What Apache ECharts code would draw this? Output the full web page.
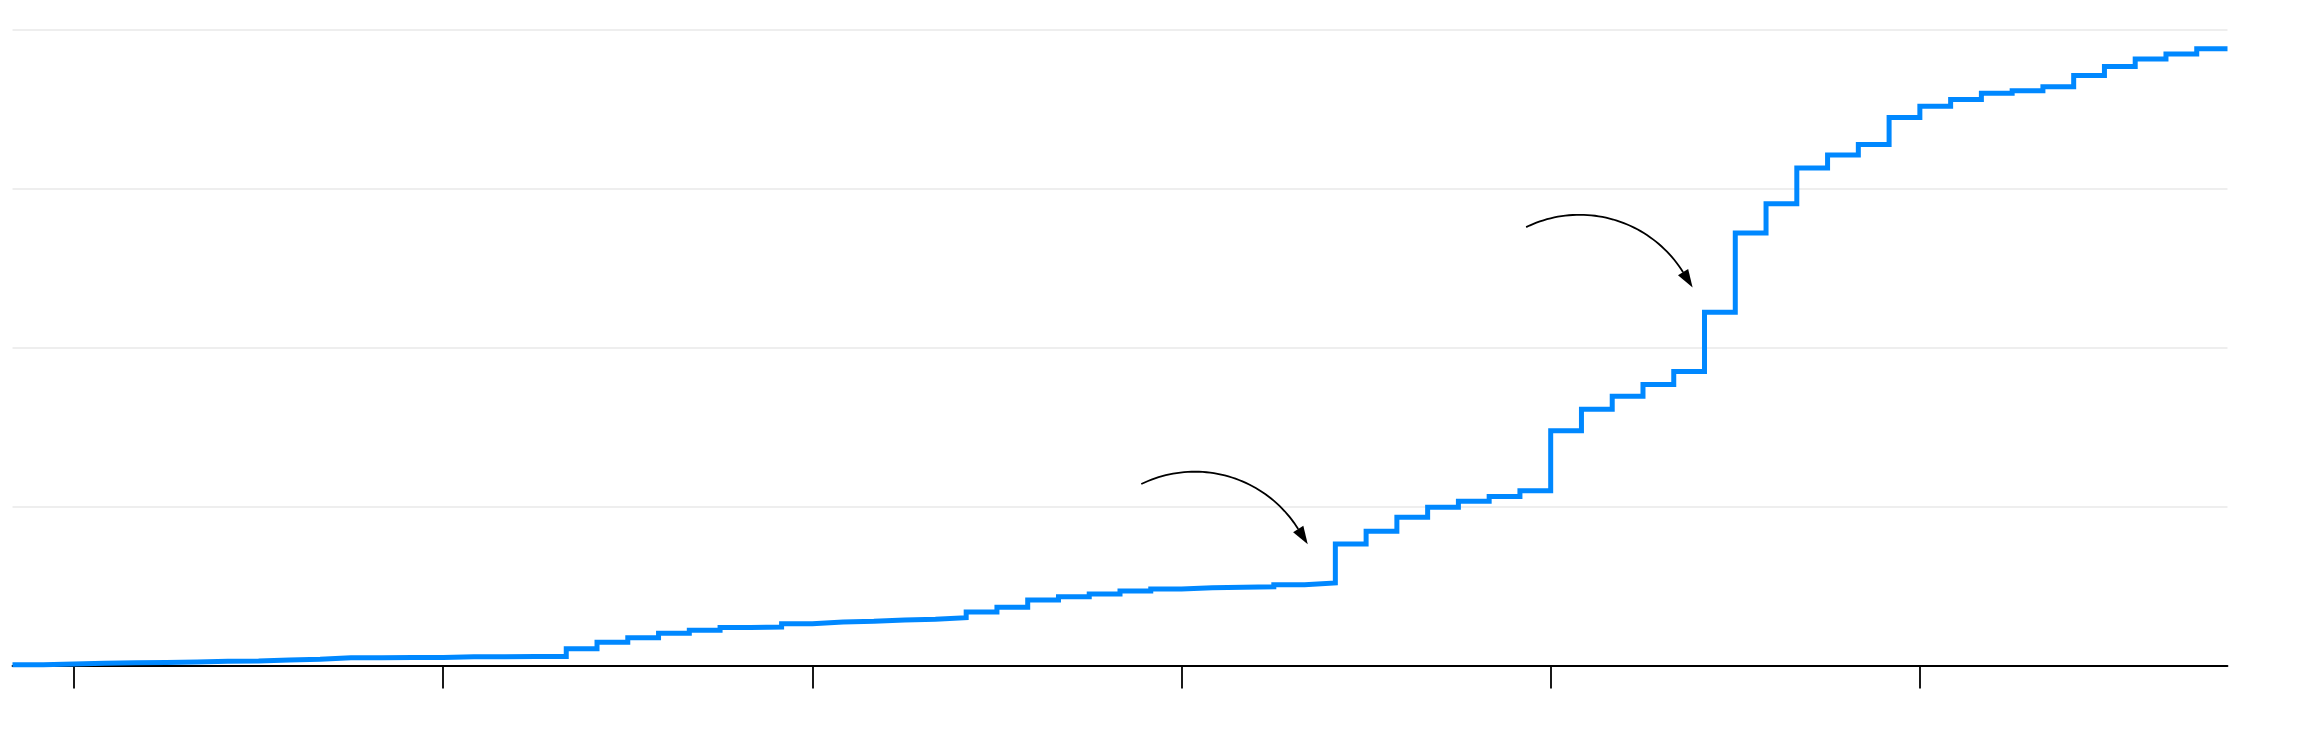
<!DOCTYPE html>
<html><head><meta charset="utf-8">
<script src="https://cdn.jsdelivr.net/npm/echarts@6/dist/echarts.min.js"></script>
<style>html,body{margin:0;padding:0;background:#fff}#c{width:2320px;height:740px}</style>
</head><body><div id="c"></div>
<script>
// one value per monthly step (gridline spacing = 100 units)
const values = [
  0.5, 0.9, 1.4, 1.8, 1.9, 2.2, 2.6, 2.8, 3.5, 3.9,
  4.9, 4.9, 5.0, 5.0, 5.5, 5.5, 5.6, 5.6, 10.6, 14.6,
  17.5, 20.3, 22.2, 23.9, 24.2, 26.3, 27.4, 27.8, 28.7, 29.1,
  30.1, 33.7, 36.6, 41.2, 43.3, 45.0, 46.9, 48.2, 49.0, 49.2,
  49.6, 50.9, 52.0, 76.5, 84.5, 93.3, 99.6, 103.4, 106.3, 110.0,
  147.7, 161.3, 169.5, 176.8, 185.0, 222.4, 272.2, 290.6, 313.1, 321.3,
  328.0, 345.0, 352.0, 356.3, 360.2, 361.8, 364.3, 371.4, 377.1, 381.7,
  384.9, 388.2
];
const tickPositions = [2, 14, 26, 38, 50, 62];
const yMax = 400;
const yInterval = 100;
// annotation arcs: centre of each arc in data coordinates
const arrowCenters = [[38.43, 45.2], [50.94, 206.9]];

const chart = echarts.init(document.getElementById('c'), null, {renderer: 'canvas'});
const data = values.map((v, i) => [i, v]);
data.push([values.length, values[values.length - 1]]);

chart.setOption({
  animation: false,
  backgroundColor: '#ffffff',
  grid: {left: 12.5, right: 92.5, top: 30, bottom: 74.5, containLabel: false},
  xAxis: {
    type: 'value', min: 0, max: values.length,
    axisLine: {show: true, onZero: false, lineStyle: {color: '#000', width: 1.8}},
    axisTick: {show: true, customValues: tickPositions, length: 23, lineStyle: {color: '#000', width: 1.8}},
    axisLabel: {show: false},
    splitLine: {show: false}
  },
  yAxis: {
    type: 'value', min: 0, max: yMax, interval: yInterval,
    axisLine: {show: false}, axisTick: {show: false}, axisLabel: {show: false},
    splitLine: {show: true, lineStyle: {color: '#e9e9e9', width: 1.6}}
  },
  series: [{
    type: 'line', step: 'end', data: data, showSymbol: false, symbol: 'none',
    lineStyle: {color: '#0088ff', width: 5, cap: 'butt', join: 'miter'}, z: 3
  }]
});

function drawArrows() {
  const r = 122, a0 = -116 * Math.PI / 180, a1 = -32 * Math.PI / 180;
  const headLen = 18, headHalf = 6;
  const g = [];
  arrowCenters.forEach((c) => {
    const p = chart.convertToPixel({xAxisIndex: 0, yAxisIndex: 0}, c);
    const pts = [];
    for (let k = 0; k <= 48; k++) {
      const a = a0 + (a1 - a0) * k / 48;
      pts.push([p[0] + r * Math.cos(a), p[1] + r * Math.sin(a)]);
    }
    const b = pts[pts.length - 1];
    const t = [-Math.sin(a1), Math.cos(a1)];
    const n = [Math.cos(a1), Math.sin(a1)];
    const tip = [b[0] + headLen * t[0], b[1] + headLen * t[1]];
    g.push({type: 'polyline', shape: {points: pts}, style: {stroke: '#000', lineWidth: 1.8, fill: null}, z: 10});
    g.push({type: 'polygon', shape: {points: [tip, [b[0] + headHalf * n[0], b[1] + headHalf * n[1]], [b[0] - headHalf * n[0], b[1] - headHalf * n[1]]]}, style: {fill: '#000'}, z: 10});
  });
  chart.setOption({graphic: g});
}
drawArrows();
</script>
</body></html>
